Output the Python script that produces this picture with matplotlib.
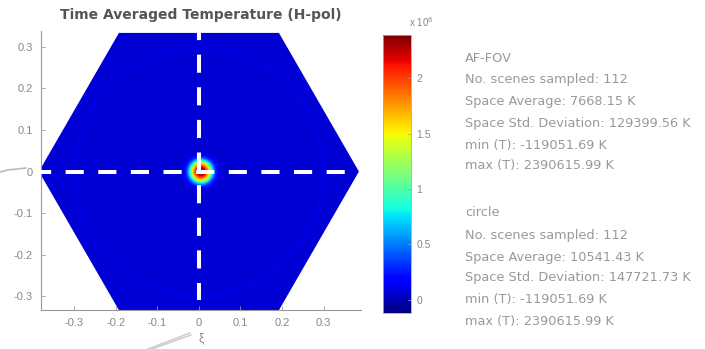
import numpy as np
import matplotlib
matplotlib.use("Agg")
import matplotlib.pyplot as plt
from matplotlib.patches import Polygon
from matplotlib.lines import Line2D

# ---- data ----
title = "Time Averaged Temperature (H-pol)"
x_ticks = [-0.3, -0.2, -0.1, 0, 0.1, 0.2, 0.3]
y_ticks = [-0.3, -0.2, -0.1, 0, 0.1, 0.2, 0.3]
cbar_ticks = [0, 0.5e6, 1.0e6, 1.5e6, 2.0e6]
cbar_labels = ["0", "0.5", "1", "1.5", "2"]
t_min = -119051.69
t_max = 2390615.99
hex_radius = 0.385
background_T = 75000.0
ring_radius = 0.30
ring_T = 25000.0
spot_center = (0.005, 0.0)
spot_r = [0.0, 0.01, 0.018, 0.024, 0.03, 0.036, 0.045, 0.06, 0.08]
spot_T = [2.39e6, 2.15e6, 1.65e6, 1.05e6, 0.55e6, 0.2e6, 0.02e6, -0.02e6, 0.0]
block1 = ["AF-FOV", "No. scenes sampled: 112", "Space Average: 7668.15 K",
          "Space Std. Deviation: 129399.56 K", "min (T): -119051.69 K",
          "max (T): 2390615.99 K"]
block2 = ["circle", "No. scenes sampled: 112", "Space Average: 10541.43 K",
          "Space Std. Deviation: 147721.73 K", "min (T): -119051.69 K",
          "max (T): 2390615.99 K"]

W, H = 705, 349
fig = plt.figure(figsize=(W / 100, H / 100), dpi=100)
plt.rcParams['font.family'] = ['Liberation Sans', 'DejaVu Sans']

def fx(px):
    return px / W

def fy(py):
    return 1 - py / H

ax = fig.add_axes([fx(41), fy(310), fx(361) - fx(41), fy(31) - fy(310)])
xlim = (-0.38, 0.39)
ylim = (-0.333, 0.338)
ax.set_xlim(*xlim)
ax.set_ylim(*ylim)

# field on a grid
xs = np.arange(-0.40, 0.40, 0.003)
ys = np.arange(-0.36, 0.36, 0.003)
X, Y = np.meshgrid(xs, ys)
R = np.hypot(X - spot_center[0], Y - spot_center[1])
Rc = np.hypot(X, Y)
T = background_T + np.interp(R, spot_r, spot_T) + ring_T * np.exp(-((Rc - ring_radius) / 0.004) ** 2)

im = ax.imshow(T, extent=(xs[0], xs[-1], ys[0], ys[-1]), origin="lower",
               cmap="jet", vmin=t_min, vmax=t_max, interpolation="bilinear",
               aspect="auto")
ang = np.deg2rad(np.arange(0, 360, 60))
hexpts = np.column_stack([hex_radius * np.cos(ang), hex_radius * np.sin(ang)])
hexpatch = Polygon(hexpts, closed=True, transform=ax.transData, facecolor="none", edgecolor="none")
ax.add_patch(hexpatch)
im.set_clip_path(hexpatch)

# dashed cross
ax.plot([0, 0], [0.36, -0.31], color="white", lw=2.9, dashes=(4.5, 3.6), clip_on=False, zorder=5)
ax.plot([-0.40, 0.395], [0, 0], color="white", lw=2.9, dashes=(4.5, 3.6), clip_on=False, zorder=5)

for s in ["top", "right"]:
    ax.spines[s].set_visible(False)
for s in ["left", "bottom"]:
    ax.spines[s].set_color("#999999")
    ax.spines[s].set_linewidth(0.8)
ax.set_xticks(x_ticks)
ax.set_yticks(y_ticks)
ax.set_xticklabels([f"{v:g}" for v in x_ticks])
ax.set_yticklabels([f"{v:g}" for v in y_ticks])
ax.tick_params(direction="in", length=3, width=0.6, color="#999999",
               labelcolor="#888888", labelsize=8, pad=6)
ax.set_xlabel("ξ", color="#888888", fontsize=8.5, labelpad=3)
ax.set_title(title, fontsize=10, fontweight="bold", color="#555555", pad=9,
             family=["DejaVu Sans"])

# colorbar
cax = fig.add_axes([fx(383), fy(313), fx(411) - fx(383), fy(35) - fy(313)])
cb = fig.colorbar(im, cax=cax, ticks=cbar_ticks)
cb.ax.set_yticklabels(cbar_labels)
cb.ax.tick_params(direction="in", length=2.5, width=0.6, color="#999999",
                  labelcolor="#888888", labelsize=7.5, pad=4)
cb.outline.set_edgecolor("#aaaaaa")
cb.outline.set_linewidth(0.6)
fig.text(fx(409), fy(22), r"x 10$^{6}$", fontsize=7, color="#888888", va="center")

# statistics text
y1 = [58, 80, 101, 123, 145, 166]
y2 = [213, 235, 257, 278, 300, 322]
for s, yy in zip(block1, y1):
    fig.text(fx(465), fy(yy), s, fontsize=9.3, color="#999999", va="center",
             family=["DejaVu Sans"])
for s, yy in zip(block2, y2):
    fig.text(fx(465), fy(yy), s, fontsize=9.3, color="#999999", va="center",
             family=["DejaVu Sans"])

# faint grey pointer strokes
fig.add_artist(Line2D([fx(0), fx(8), fx(26)], [fy(172), fy(170), fy(168)], color="#bbbbbb", lw=1.2))
fig.add_artist(Line2D([fx(148), fx(190)], [fy(349), fy(333)], color="#c8c8c8", lw=1.0))
fig.add_artist(Line2D([fx(152), fx(191)], [fy(349), fy(335)], color="#c8c8c8", lw=1.0))

fig.savefig("out.png", dpi=100)
